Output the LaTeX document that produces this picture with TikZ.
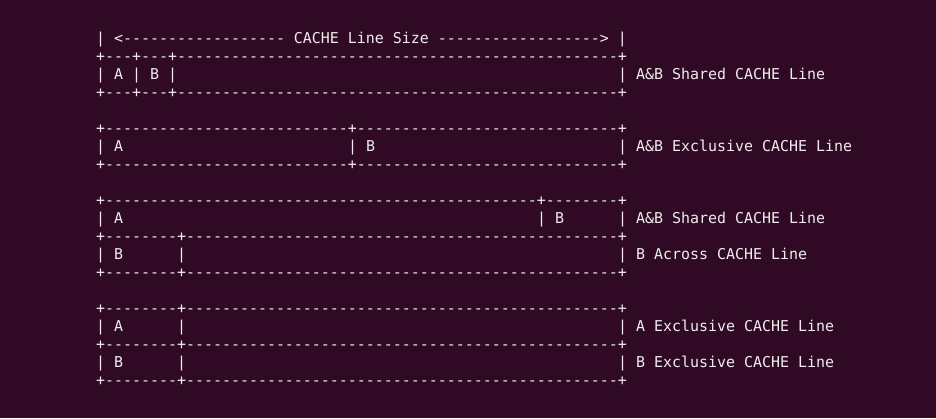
\documentclass[tikz,border=0pt]{standalone}
\usepackage{fontspec}
\setmonofont{DejaVu Sans Mono}
\definecolor{termbg}{HTML}{300A24}
\definecolor{termfg}{HTML}{EEEEEC}
\ExplSyntaxOn
\cs_new:Npn \myrep #1#2 { \prg_replicate:nn {#1} {#2} }
\ExplSyntaxOff
\newcommand\dsh[1]{\myrep{#1}{-}}
\newcommand\spc[1]{\myrep{#1}{~}}
\tikzset{
  termline/.style={anchor=base west, inner sep=0pt, outer sep=0pt, text=termfg,
    font=\ttfamily\fontsize{14.95}{18}\selectfont}
}
\newcommand\rowy[1]{418-43.5-18*#1}
\begin{document}
\begin{tikzpicture}[x=1pt,y=1pt]
\fill[termbg] (0,0) rectangle (936,418);
\useasboundingbox (0,0) rectangle (936,418);
% section 1
\node[termline] (l0) at (96,{\rowy{0}}) {|~<\dsh{18}~CACHE~Line~Size~\dsh{18}>~|};
\node[termline] (l1) at (96,{\rowy{1}}) {+---+---+\dsh{49}+};
\node[termline] (l2) at (96,{\rowy{2}}) {|~A~|~B~|\spc{49}|~A\&B~Shared~CACHE~Line};
\node[termline] (l3) at (96,{\rowy{3}}) {+---+---+\dsh{49}+};
% section 2
\node[termline] (l5) at (96,{\rowy{5}}) {+\dsh{27}+\dsh{29}+};
\node[termline] (l6) at (96,{\rowy{6}}) {|~A\spc{25}|~B\spc{27}|~A\&B~Exclusive~CACHE~Line};
\node[termline] (l7) at (96,{\rowy{7}}) {+\dsh{27}+\dsh{29}+};
% section 3
\node[termline] (l9) at (96,{\rowy{9}}) {+\dsh{48}+\dsh{8}+};
\node[termline] (l10) at (96,{\rowy{10}}) {|~A\spc{46}|~B\spc{6}|~A\&B~Shared~CACHE~Line};
\node[termline] (l11) at (96,{\rowy{11}}) {+\dsh{8}+\dsh{48}+};
\node[termline] (l12) at (96,{\rowy{12}}) {|~B\spc{6}|\spc{48}|~B~Across~CACHE~Line};
\node[termline] (l13) at (96,{\rowy{13}}) {+\dsh{8}+\dsh{48}+};
% section 4
\node[termline] (l15) at (96,{\rowy{15}}) {+\dsh{8}+\dsh{48}+};
\node[termline] (l16) at (96,{\rowy{16}}) {|~A\spc{6}|\spc{48}|~A~Exclusive~CACHE~Line};
\node[termline] (l17) at (96,{\rowy{17}}) {+\dsh{8}+\dsh{48}+};
\node[termline] (l18) at (96,{\rowy{18}}) {|~B\spc{6}|\spc{48}|~B~Exclusive~CACHE~Line};
\node[termline] (l19) at (96,{\rowy{19}}) {+\dsh{8}+\dsh{48}+};
\end{tikzpicture}
\end{document}
